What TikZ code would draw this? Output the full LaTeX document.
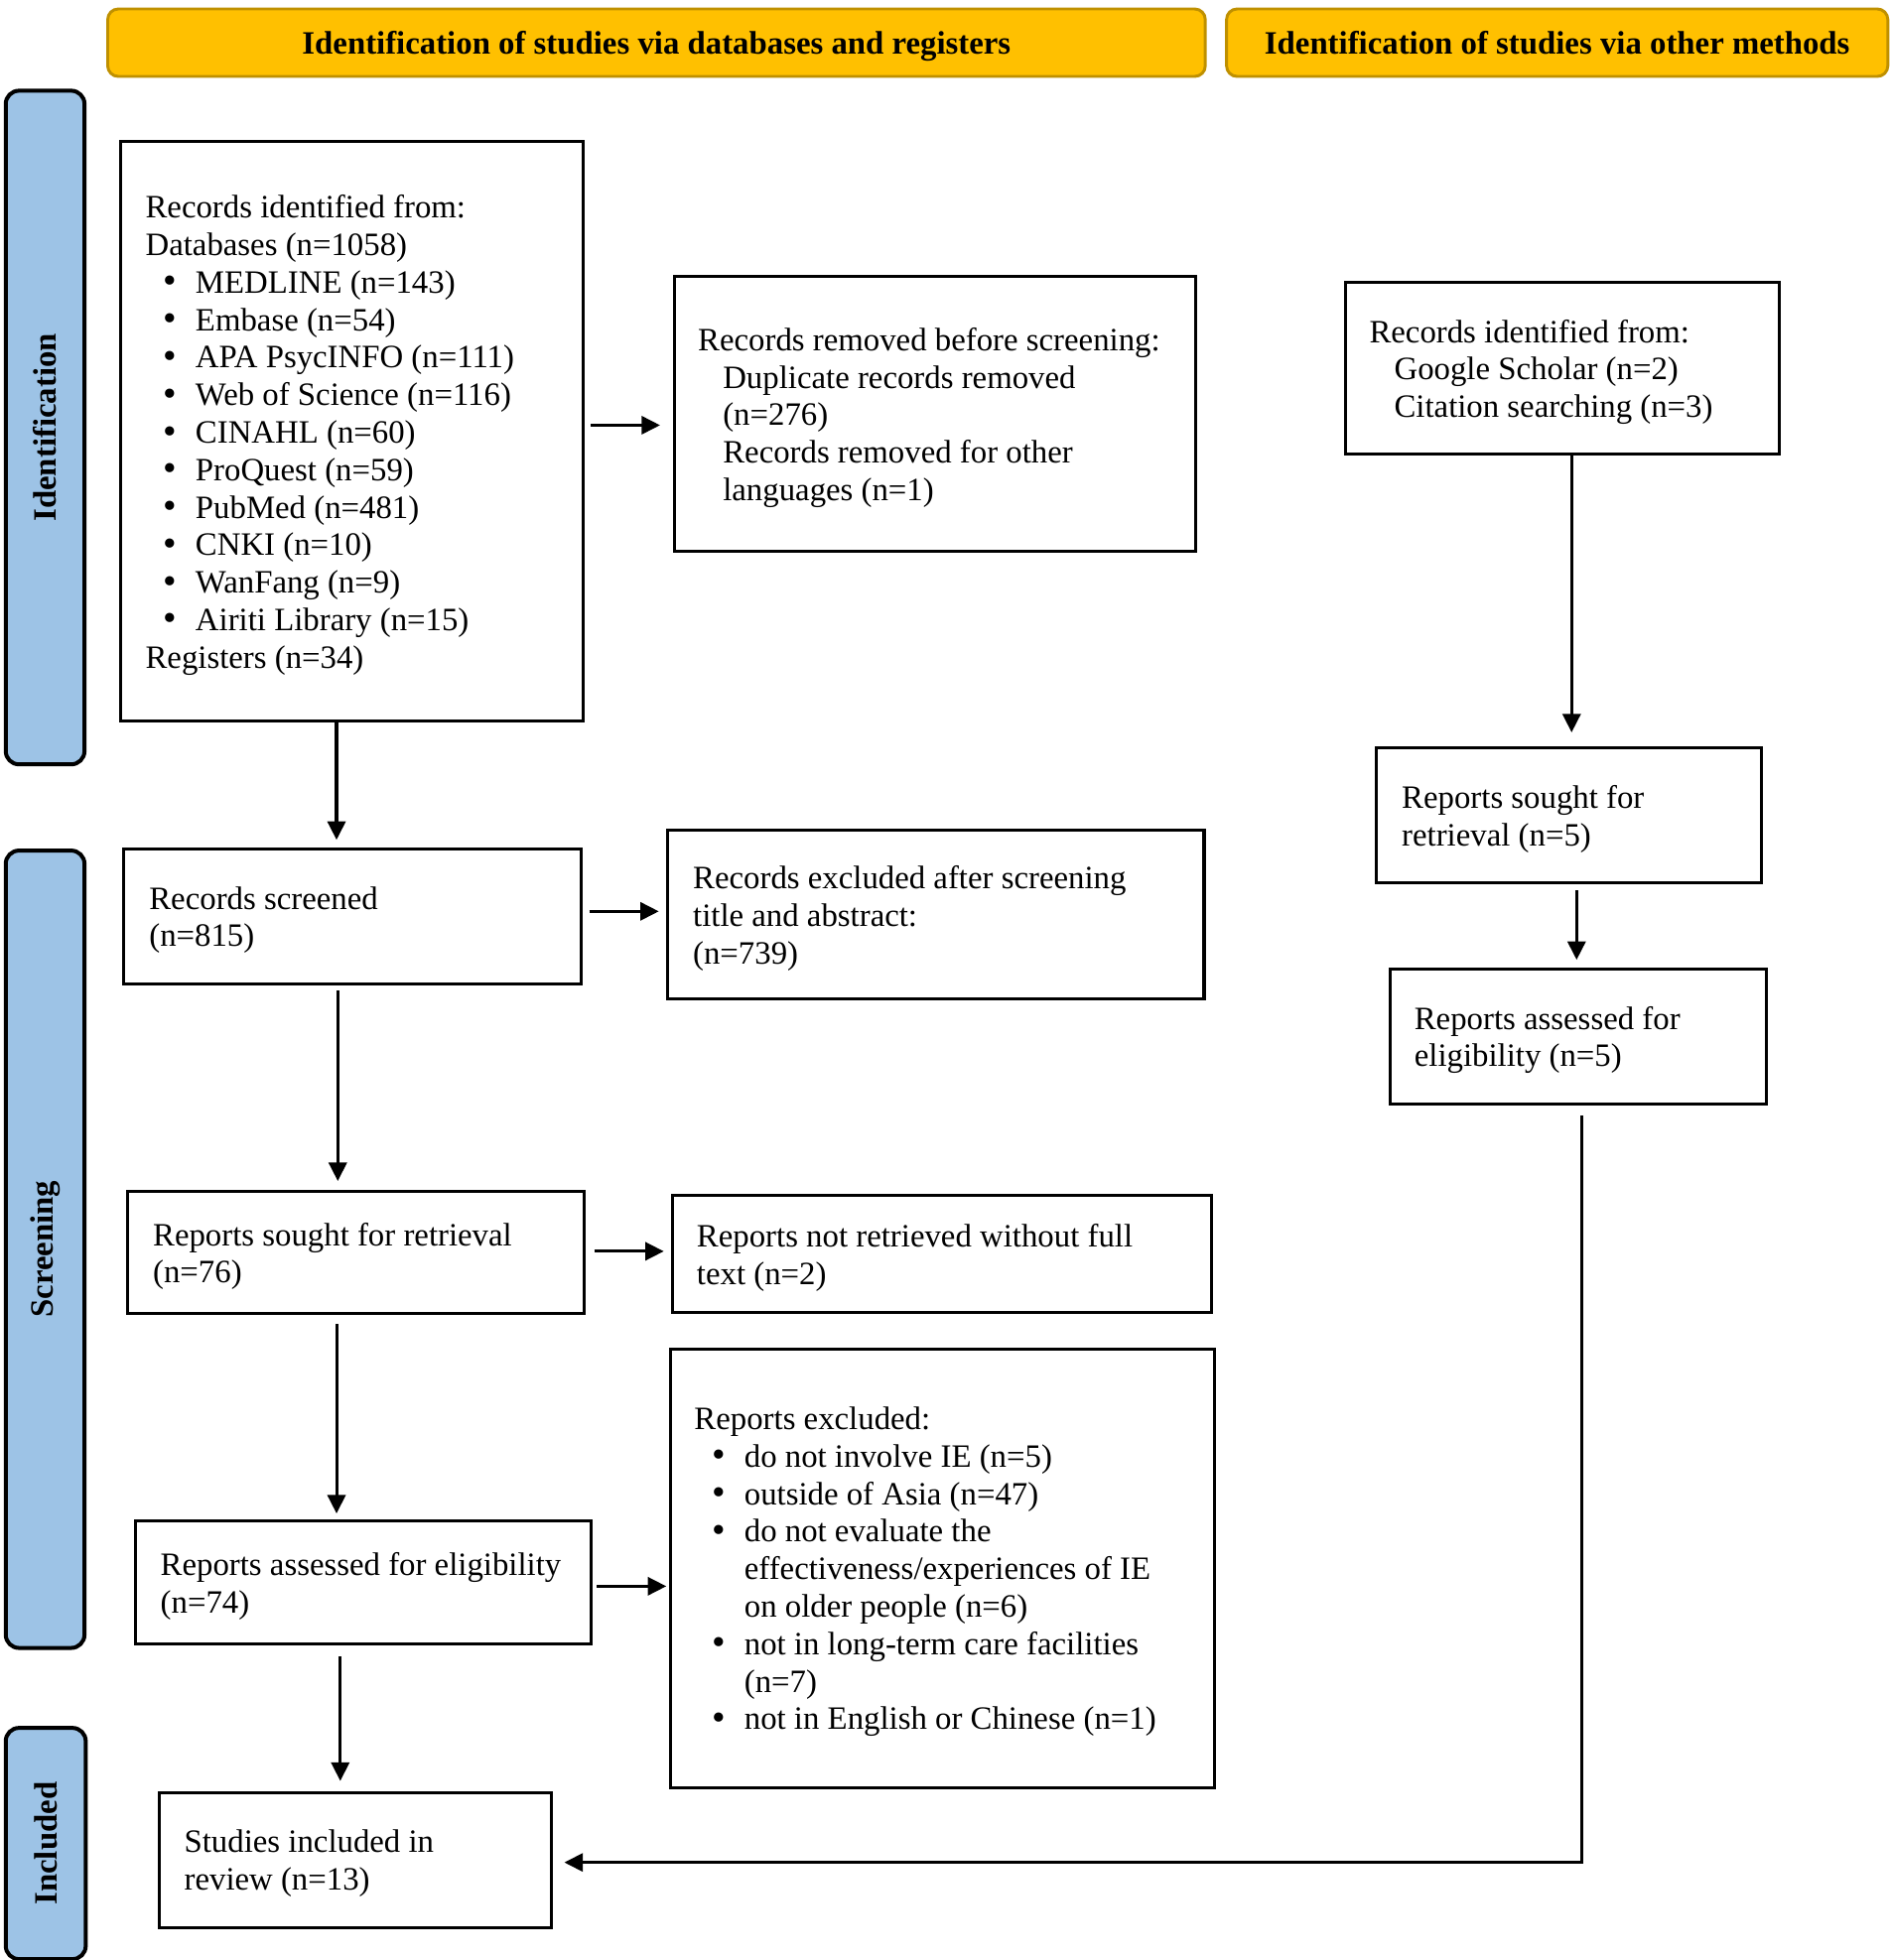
\documentclass[tikz,border=0pt]{standalone}
\usepackage{fontspec}
\usepackage{graphicx}
\setmainfont{Liberation Serif}
\usetikzlibrary{arrows.meta}
\definecolor{gold}{HTML}{FFC000}
\definecolor{goldedge}{HTML}{BF9000}
\definecolor{barblue}{HTML}{9DC3E6}
\newcommand\itm{\hspace*{6.6pt}\makebox[12.3pt][l]{\raisebox{-0.2pt}{\scalebox{1.18}{\textbullet}}}}
\newcommand\ind{\hspace*{9.4pt}}
\tikzset{
  sz/.style 2 args={minimum width={#1*0.4722pt}, minimum height={#2*0.4722pt}},
  box/.style={draw=black, line width=1.15pt, inner sep=0pt, anchor=north west},
  txt/.style={inner sep=0pt, align=left, anchor=west, yshift=-1.4pt, font=\fontsize{12.3}{14.17}\selectfont},
  hdr/.style={draw=goldedge, fill=gold, line width=1.1pt, rounded corners=4pt, inner sep=0pt, anchor=north west, text height=10.9pt, text depth=2.3pt, font=\fontsize{12.3}{14.17}\selectfont\bfseries},
  bar/.style={draw=black, fill=barblue, line width=1.5pt, rounded corners=5pt, inner sep=0pt, anchor=north west},
  lbl/.style={rotate=90, inner sep=0pt, font=\fontsize{12.3}{14.17}\selectfont\bfseries},
  arr/.style={line width=1.15pt, -{Triangle[length=7pt, width=6.8pt]}}
}
\begin{document}
\begin{tikzpicture}[x=0.4722pt, y=-0.4722pt]
\useasboundingbox (0,0) rectangle (1512,1568.3);

% headers
\node[hdr, sz={878}{54}] (h1) at (85,6) {Identification of studies via databases and registers};
\node[hdr, sz={529}{54}] (h2) at (980,6) {Identification of studies via other methods};

% side bars
\node[bar, sz={63}{539}] (bid) at (3,71) {};
\node[lbl] (lid) at (bid) {Identification};
\node[bar, sz={63}{638}] (bsc) at (3,679) {};
\node[lbl] (lsc) at (bsc) {Screening};
\node[bar, sz={64}{185}] (bin) at (3,1381) {};
\node[lbl] (lin) at (bin) {Included};

% boxes
\node[box, sz={370}{464}] (A) at (95,112) {};
\node[txt] (At) at ([xshift=9.9pt]A.west) {Records identified from:\\Databases (n=1058)\\
\itm MEDLINE (n=143)\\
\itm Embase (n=54)\\
\itm APA PsycINFO (n=111)\\
\itm Web of Science (n=116)\\
\itm CINAHL (n=60)\\
\itm ProQuest (n=59)\\
\itm PubMed (n=481)\\
\itm CNKI (n=10)\\
\itm WanFang (n=9)\\
\itm Airiti Library (n=15)\\
Registers (n=34)};

\node[box, sz={417}{220}] (B) at (538,220) {};
\node[txt] (Bt) at ([xshift=9.44pt]B.west) {Records removed before screening:\\
\ind Duplicate records removed\\
\ind (n=276)\\
\ind Records removed for other\\
\ind languages (n=1)};

\node[box, sz={347}{137}] (C) at (1075,225) {};
\node[txt] (Ct) at ([xshift=9.44pt]C.west) {Records identified from:\\
\ind Google Scholar (n=2)\\
\ind Citation searching (n=3)};

\node[box, sz={366}{108}] (D) at (98,678) {};
\node[txt] (Dt) at ([xshift=9.9pt]D.west) {Records screened\\(n=815)};

\node[box, sz={429}{135}] (E) at (533,663) {};
\node[txt] (Et) at ([xshift=9.9pt]E.west) {Records excluded after screening\\title and abstract:\\(n=739)};

\node[box, sz={308}{108}] (F) at (1100,597) {};
\node[txt] (Ft) at ([xshift=9.9pt]F.west) {Reports sought for\\retrieval (n=5)};

\node[box, sz={301}{108}] (G) at (1111,774) {};
\node[txt] (Gt) at ([xshift=9.44pt]G.west) {Reports assessed for\\eligibility (n=5)};

\node[box, sz={365}{98}] (H) at (101,952) {};
\node[txt] (Ht) at ([xshift=9.9pt]H.west) {Reports sought for retrieval\\(n=76)};

\node[box, sz={431}{94}] (I) at (537,955) {};
\node[txt] (It) at ([xshift=9.44pt]I.west) {Reports not retrieved without full\\text (n=2)};

\node[box, sz={365}{98}] (J) at (107,1216) {};
\node[txt] (Jt) at ([xshift=9.9pt]J.west) {Reports assessed for eligibility\\(n=74)};

\node[box, sz={435}{351}] (K) at (535,1078) {};
\node[txt] (Kt) at ([xshift=9.44pt]K.west) {Reports excluded:\\
\itm do not involve IE (n=5)\\
\itm outside of Asia (n=47)\\
\itm do not evaluate the\\
\hspace*{18.9pt}effectiveness/experiences of IE\\
\hspace*{18.9pt}on older people (n=6)\\
\itm not in long-term care facilities\\
\hspace*{18.9pt}(n=7)\\
\itm not in English or Chinese (n=1)};

\node[box, sz={314}{108}] (L) at (126,1433) {};
\node[txt] (Lt) at ([xshift=9.9pt]L.west) {Studies included in\\review (n=13)};

% horizontal arrows
\draw[arr, shorten <=2.36pt, shorten >=4.72pt] ([yshift=2.36pt]A.east) -- ([yshift=2.36pt]A.east -| B.west);
\draw[arr, shorten <=2.36pt, shorten >=2.83pt] ([yshift=1.89pt]D.east) -- ([yshift=1.89pt]D.east -| E.west);
\draw[arr, shorten <=3.31pt, shorten >=2.83pt] ([yshift=0.47pt]H.east) -- ([yshift=0.47pt]H.east -| I.west);
\draw[arr, shorten <=1.42pt, shorten >=0.94pt] ([yshift=-1.42pt]J.east) -- ([yshift=-1.42pt]J.east -| K.west);

% vertical arrows
\draw[arr, shorten >=2.83pt] ([xshift=-5.67pt]A.south) -- ([xshift=-5.67pt]A.south |- D.north);
\draw[arr, shorten <=1.89pt, shorten >=3.31pt] ([xshift=-5.67pt]D.south) -- ([xshift=-5.67pt]D.south |- H.north);
\draw[arr, shorten <=3.31pt, shorten >=2.36pt] ([xshift=-7.32pt]H.south) -- ([xshift=-7.32pt]H.south |- J.north);
\draw[arr, shorten <=4.25pt, shorten >=3.78pt] ([xshift=-8.74pt]J.south) -- ([xshift=-8.74pt]J.south |- L.north);
\draw[arr, shorten >=5.19pt] ([xshift=3.54pt]C.south) -- ([xshift=3.54pt]C.south |- F.north);
\draw[arr, shorten <=2.36pt, shorten >=2.83pt] ([xshift=2.83pt]F.south) -- ([xshift=2.83pt]F.south |- G.north);
\draw[arr, line join=miter, shorten <=3.78pt, shorten >=4.25pt] ([xshift=1.18pt]G.south) |- ([yshift=-0.94pt]L.east);
\end{tikzpicture}
\end{document}
